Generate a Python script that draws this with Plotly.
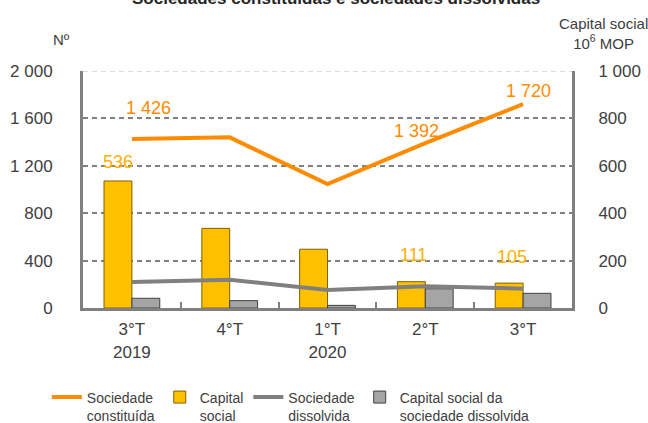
import plotly.graph_objects as go

# ---- data ----
quarters = ["3°T<br>2019", "4°T", "1°T<br>2020", "2°T", "3°T"]
constituida = [1426, 1440, 1046, 1392, 1720]          # Nº (left axis)
dissolvida = [219, 239, 152, 183, 163]                # Nº (left axis)
capital_social = [536, 336, 248, 111, 105]           # 10^6 MOP (right axis)
capital_dissolvida = [41, 31, 11, 81, 62]            # 10^6 MOP (right axis)
left_ticks = [0, 400, 800, 1200, 1600, 2000]
right_ticks = [0, 200, 400, 600, 800, 1000]

FONT = "Liberation Sans, Arial, sans-serif"
ORANGE = "#FF8C00"
GOLD = "#FFC000"
GOLD_TXT = "#FFB000"
GREY_LINE = "#808080"
GREY_BAR = "#A5A5A5"
AXIS = "#808080"
TXT = "#404040"

def fmt(v):
    return f"{v:,}".replace(",", " ")

x = list(range(len(quarters)))

fig = go.Figure()
fig.add_trace(go.Scatter(x=x, y=constituida, name="Sociedade<br>constituída",
                         mode="lines", line=dict(color=ORANGE, width=4), yaxis="y2"))
fig.add_trace(go.Bar(x=x, y=capital_social, name="Capital<br>social",
                     marker=dict(color=GOLD, line=dict(color="#7F6000", width=1)), yaxis="y"))
fig.add_trace(go.Scatter(x=x, y=dissolvida, name="Sociedade<br>dissolvida",
                         mode="lines", line=dict(color=GREY_LINE, width=4), yaxis="y2"))
fig.add_trace(go.Bar(x=x, y=capital_dissolvida, name="Capital social da<br>sociedade dissolvida",
                     marker=dict(color=GREY_BAR, line=dict(color="#404040", width=1)), yaxis="y"))

annotations = []
# line labels
for i, dx, dy in [(0, 17, 31), (3, -9, 12), (4, 5, 13)]:
    annotations.append(dict(x=x[i], y=constituida[i], xref="x", yref="y2", text=fmt(constituida[i]),
                            showarrow=False, xshift=dx, yshift=dy,
                            font=dict(family=FONT, size=18, color=ORANGE)))
# bar labels
for i, dx, dy in [(0, -14, 19), (3, -12, 27), (4, -11, 26)]:
    annotations.append(dict(x=x[i], y=capital_social[i], xref="x", yref="y", text=fmt(capital_social[i]),
                            showarrow=False, xshift=dx, yshift=dy,
                            font=dict(family=FONT, size=18, color=GOLD_TXT)))
# titles
annotations.append(dict(x=0.517, y=1.258, xref="paper", yref="paper", xanchor="center", yanchor="bottom",
                        text="<b>Sociedades constituídas e sociedades dissolvidas</b>",
                        showarrow=False, font=dict(family=FONT, size=17, color="#262626")))
annotations.append(dict(x=-0.043, y=1.131, xref="paper", yref="paper", xanchor="center", yanchor="middle",
                        text="Nº", showarrow=False, font=dict(family=FONT, size=15, color=TXT)))
annotations.append(dict(x=1.065, y=1.160, xref="paper", yref="paper", xanchor="center", yanchor="middle",
                        text="Capital social<br>10<sup>6</sup> MOP", align="center",
                        showarrow=False, font=dict(family=FONT, size=15, color=TXT)))

fig.update_layout(
    width=648, height=423,
    margin=dict(l=83, r=76, t=71, b=115, autoexpand=False),
    paper_bgcolor="white", plot_bgcolor="white",
    font=dict(family=FONT, size=17, color=TXT),
    barmode="group", bargap=0.43, bargroupgap=0,
    showlegend=True,
    legend=dict(orientation="h", x=-0.074, xanchor="left", y=-0.31, yanchor="top",
                font=dict(family=FONT, size=14, color=TXT), valign="top",
                traceorder="normal", itemwidth=30, tracegroupgap=0),
    xaxis=dict(range=[-0.5, 4.5], tickvals=x, ticktext=quarters, showgrid=False,
               showline=True, linecolor=AXIS, linewidth=3, ticks="", zeroline=False,
               ticklabelstandoff=4,
               tickfont=dict(family=FONT, size=17, color=TXT),
               minor=dict(tickvals=[0.5, 1.5, 2.5, 3.5], ticks="inside", ticklen=6,
                          tickcolor=AXIS, tickwidth=2, showgrid=False)),
    yaxis=dict(side="right", range=[0, 1000], tickvals=right_ticks,
               ticktext=[fmt(v) for v in right_ticks], showgrid=False,
               showline=True, linecolor=AXIS, linewidth=3, zeroline=False,
               ticks="", ticklabelstandoff=20,
               tickfont=dict(family=FONT, size=17, color=TXT),
               minor=dict(tickvals=[200, 400, 600, 800], showgrid=True, gridcolor=AXIS,
                          gridwidth=1.5, griddash="5px,4px")),
    yaxis2=dict(side="left", overlaying="y", range=[0, 2000], tickvals=left_ticks,
                ticktext=[fmt(v) for v in left_ticks], showgrid=False,
                showline=True, linecolor=AXIS, linewidth=3, zeroline=False,
                ticks="", ticklabelstandoff=24,
                tickfont=dict(family=FONT, size=17, color=TXT)),
    annotations=annotations,
    shapes=[dict(type="line", xref="paper", yref="y", x0=0, x1=1, y0=right_ticks[-1], y1=right_ticks[-1],
                 line=dict(color="#D0D0D0", width=1.5, dash="5px,4px"), layer="below")],
)

fig.write_html("out.html")
